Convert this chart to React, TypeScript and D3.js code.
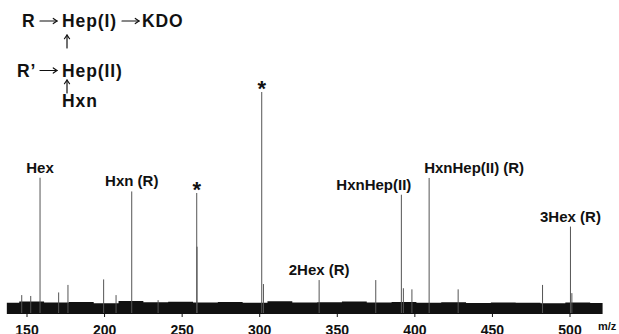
import * as d3 from 'd3';

// m/z of each peak and its relative intensity (% of base peak)
const peakMz = [146.6, 152.4, 158.4, 170.4, 176.4, 199.4, 207.4, 217.5, 234.5, 259.4, 259.6, 301.3, 302.4, 338.3, 374.8, 391.3, 392.6, 398.1, 409.2, 427.9, 482.3, 500.3, 501.2];
const peakInt = [8.1, 7.7, 61.2, 9.3, 12.7, 15.2, 8.1, 55.0, 5.8, 54.3, 30.0, 100, 13.1, 14.9, 14.9, 53.5, 11.2, 10.7, 61.1, 10.7, 12.7, 39.1, 9.0];

// annotated peaks
const labelText = ['Hex', 'Hxn (R)', '*', '*', '2Hex (R)', 'HxnHep(II)', 'HxnHep(II) (R)', '3Hex (R)'];
const labelMz = [158.4, 217.5, 259.4, 301.3, 338.3, 391.3, 409.2, 500.3];
const labelInt = [61.2, 55.0, 54.3, 100, 14.9, 53.5, 61.1, 39.1];

// noise floor envelope (every 16 m/z units)
const noiseMz = [137, 153, 169, 185, 201, 217, 233, 249, 265, 281, 297, 313, 329, 345, 361, 377, 393, 409, 425, 441, 457, 473, 489, 505, 521];
const noiseTop = [4.6, 5.2, 4.8, 5.0, 4.4, 5.4, 4.9, 5.1, 4.7, 5.0, 4.6, 5.3, 4.8, 4.9, 5.2, 4.7, 5.0, 4.6, 4.9, 4.5, 4.8, 4.6, 4.4, 4.7, 4.5];

const xTicks = [150, 200, 250, 300, 350, 400, 450, 500];

const W = 619;
const H = 334;
const font = '"Liberation Sans", Arial, Helvetica, sans-serif';

function Arrow({ x1, y1, x2, y2 }: { x1: number; y1: number; x2: number; y2: number }) {
  const a = Math.atan2(y2 - y1, x2 - x1);
  const h = 4.5;
  const p1 = [x2 - h * Math.cos(a - 0.6), y2 - h * Math.sin(a - 0.6)];
  const p2 = [x2 - h * Math.cos(a + 0.6), y2 - h * Math.sin(a + 0.6)];
  return (
    <g stroke="#111" strokeWidth={1.2} fill="none" strokeLinecap="round">
      <line x1={x1} y1={y1} x2={x2} y2={y2} />
      <polyline points={`${p1[0]},${p1[1]} ${x2},${y2} ${p2[0]},${p2[1]}`} />
    </g>
  );
}

export default function App() {
  const x = d3.scaleLinear().domain([150, 500]).range([27, 570]);
  const y = d3.scaleLinear().domain([0, 100]).range([313, 92]);

  const noiseArea = d3.area<number>()
    .x((_, i) => x(noiseMz[i]))
    .y0(y(-0.4))
    .y1(d => y(d))
    .curve(d3.curveStep);

  // label placement relative to the peak
  const anchors = ['middle', 'middle', 'middle', 'middle', 'middle', 'end', 'start', 'middle'];
  const dxs = [0, 0, 0, 0, 0, 10, -5, 0];

  return (
    <svg width={W} height={H} style={{ position: 'absolute', left: 0, top: 0, background: '#fff' }}>
      {/* scheme */}
      <g fontFamily={font} fontWeight="bold" fontSize={17.5} letterSpacing={0.9} fill="#111">
        <text x={22} y={27}>R</text>
        <text x={62} y={27}>Hep(I)</text>
        <text x={142} y={27}>KDO</text>
        <text x={17} y={76.5}>R’</text>
        <text x={62} y={76.5}>Hep(II)</text>
        <text x={62} y={106.5}>Hxn</text>
      </g>
      <Arrow x1={40} y1={21} x2={57} y2={21} />
      <Arrow x1={122} y1={21} x2={139} y2={21} />
      <Arrow x1={40} y1={70.5} x2={57} y2={70.5} />
      <Arrow x1={67} y1={48} x2={67} y2={35} />
      <Arrow x1={67} y1={93} x2={67} y2={80} />

      {/* noise floor */}
      <path d={noiseArea(noiseTop) || ''} fill="#111" />

      {/* peaks */}
      {peakMz.map((m, i) => (
        <line key={i} x1={x(m)} x2={x(m)} y1={y(0)} y2={y(peakInt[i])} stroke="#555" strokeWidth={1} />
      ))}

      {/* peak labels */}
      {labelText.map((t, i) => (
        t === '*'
          ? <text key={i} x={x(labelMz[i])} y={y(labelInt[i]) + 4} textAnchor="middle" fontFamily={font} fontWeight="bold" fontSize={22} fill="#111">*</text>
          : <text key={i} x={x(labelMz[i]) + dxs[i]} y={y(labelInt[i]) - 5} textAnchor={anchors[i]} fontFamily={font} fontWeight="bold" fontSize={15} fill="#111">{t}</text>
      ))}

      {/* x axis */}
      {xTicks.map(t => (
        <g key={t}>
          <line x1={x(t)} x2={x(t)} y1={313} y2={317} stroke="#111" strokeWidth={1} />
          <text x={x(t)} y={335} textAnchor="middle" fontFamily={font} fontWeight="bold" fontSize={14} fill="#111">{t}</text>
        </g>
      ))}
      <text x={598} y={330} fontFamily={font} fontWeight="bold" fontSize={11} fill="#111">m/z</text>
    </svg>
  );
}
